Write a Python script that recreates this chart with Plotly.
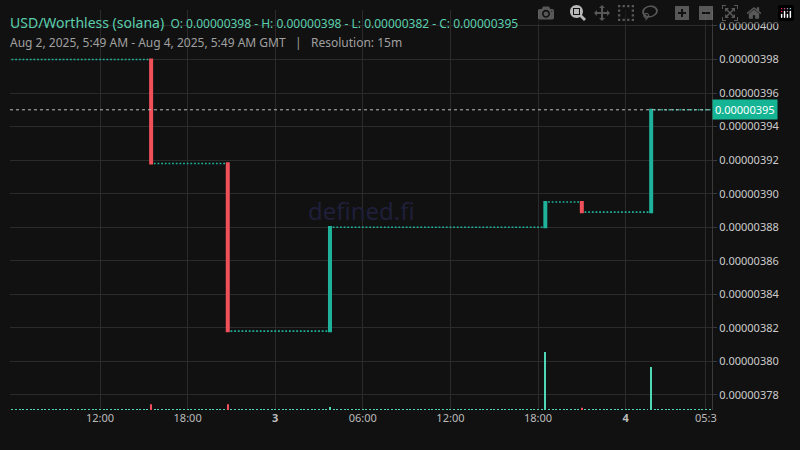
import pandas as pd
import plotly.graph_objects as go

# Price steps: (time of the move candle, open, close)
move_times = ["2025-08-02 15:30", "2025-08-02 20:45", "2025-08-03 03:45",
              "2025-08-03 18:30", "2025-08-03 21:00", "2025-08-04 01:45"]
move_open = [3.98e-6, 3.918e-6, 3.818e-6, 3.880e-6, 3.895e-6, 3.889e-6]
move_close = [3.918e-6, 3.818e-6, 3.880e-6, 3.895e-6, 3.889e-6, 3.950e-6]
move_volume = [10, 10, 5, 100, 4, 74]
flat_volume = 0.6

start = "2025-08-02 05:45"
end = "2025-08-04 05:45"
first_price = 3.98e-6
last_price = 3.95e-6

y_ticks = [3.78e-6, 3.80e-6, 3.82e-6, 3.84e-6, 3.86e-6, 3.88e-6,
           3.90e-6, 3.92e-6, 3.94e-6, 3.96e-6, 3.98e-6, 4.00e-6]
x_ticks = ["2025-08-02 12:00", "2025-08-02 18:00", "2025-08-03 00:00",
           "2025-08-03 06:00", "2025-08-03 12:00", "2025-08-03 18:00",
           "2025-08-04 00:00", "2025-08-04 05:30"]
x_labels = ["12:00", "18:00", "<b>3</b>", "06:00", "12:00", "18:00",
            "<b>4</b>", "05:3"]

TEAL = "#1fb29a"
RED = "#f0505a"

# build the 15m candle table: price stays flat between moves
idx = pd.date_range(start, end, freq="15min")
moves = pd.DataFrame({"open": move_open, "close": move_close,
                      "volume": move_volume}, index=pd.to_datetime(move_times))
df = pd.DataFrame(index=idx)
df["open"] = moves["close"].reindex(idx).ffill().fillna(first_price)
df["close"] = df["open"]
df["volume"] = flat_volume
df.loc[moves.index, "open"] = moves["open"]
df.loc[moves.index, "close"] = moves["close"]
df.loc[moves.index, "volume"] = moves["volume"]
df["high"] = df[["open", "close"]].max(axis=1)
df["low"] = df[["open", "close"]].min(axis=1)
flat = df[df.open == df.close]
mv = df[df.open != df.close]

fig = go.Figure()
fig.add_trace(go.Bar(x=df.index, y=df.volume, yaxis="y2",
                     marker_color=[RED if c < o else "#4fd6b4"
                                   for o, c in zip(df.open, df.close)],
                     marker_line_width=0, width=4 * 60 * 1000))
fig.add_trace(go.Candlestick(x=flat.index, open=flat.open, high=flat.high,
                             low=flat.low, close=flat.close,
                             increasing_line_color=TEAL, decreasing_line_color=TEAL,
                             increasing_fillcolor=TEAL, decreasing_fillcolor=TEAL,
                             line_width=1.6, whiskerwidth=0))
fig.add_trace(go.Candlestick(x=mv.index, open=mv.open, high=mv.high,
                             low=mv.low, close=mv.close,
                             increasing_line_color=TEAL, increasing_fillcolor=TEAL,
                             decreasing_line_color=RED, decreasing_fillcolor=RED,
                             line_width=2.2))

fig.add_hline(y=last_price, line=dict(color="#bbbbbb", width=1, dash="dot"))

fig.update_xaxes(range=["2025-08-02 05:50", "2025-08-04 05:55"],
                 tickvals=x_ticks, ticktext=x_labels, rangeslider_visible=False,
                 gridcolor="#2b2b2b", showline=False, zeroline=False,
                 tickfont=dict(size=11, color="#bbbbbb"))
fig.update_layout(
    width=800, height=450, showlegend=False,
    margin=dict(l=10, r=88, t=10, b=40),
    paper_bgcolor="#111111", plot_bgcolor="#111111",
    font=dict(family="Noto Sans", color="#cccccc"),
    yaxis=dict(side="right", range=[3.771e-6, 4.0095e-6], tickvals=y_ticks,
               tickformat=".8f", gridcolor="#2b2b2b", zeroline=False,
               showline=True, linecolor="#3a3a3a", ticks="outside",
               ticklen=4, tickcolor="#3a3a3a",
               tickfont=dict(size=11, color="#cccccc")),
    yaxis2=dict(overlaying="y", range=[0, 690], visible=False),
    annotations=[
        dict(x=0.0, y=1.0, xref="paper", yref="paper", xanchor="left",
             yanchor="top", xshift=-2, yshift=-1, showarrow=False,
             text="<span style='font-size:14px'>USD/Worthless (solana)</span>"
                  "  O: 0.00000398 - H: 0.00000398 - L: 0.00000382 - C: 0.00000395",
             font=dict(size=12, color="#5ccfae")),
        dict(x=0.0, y=1.0, xref="paper", yref="paper", xanchor="left",
             yanchor="top", xshift=-2, yshift=-22, showarrow=False,
             text="Aug 2, 2025, 5:49 AM - Aug 4, 2025, 5:49 AM GMT   |   Resolution: 15m",
             font=dict(size=12, color="#a0a0a0")),
        dict(x=1.0, y=last_price, xref="paper", yref="y", xanchor="left",
             showarrow=False, text="0.00000395", bgcolor="#14b494",
             borderpad=2, font=dict(size=11, color="#ffffff")),
        dict(x=0.5, y=0.5, xref="paper", yref="paper", showarrow=False,
             text="defined.fi", font=dict(size=24, color="#1f1f3a")),
    ],
)

fig.write_html("out.html",
               post_script="document.body.style.margin='0';"
                           "document.body.style.background='#111111';")
